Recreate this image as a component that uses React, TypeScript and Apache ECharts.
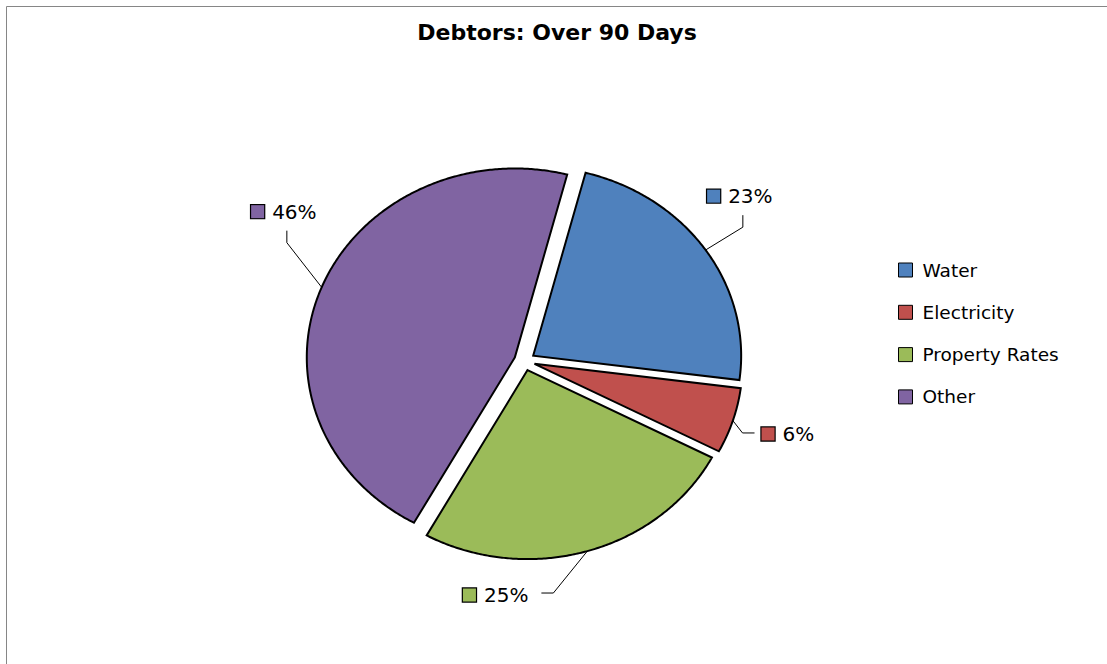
import React, { useEffect, useRef } from 'react';
import * as echarts from 'echarts';

const titleText = 'Debtors: Over 90 Days';
const categories = ['Water', 'Electricity', 'Property Rates', 'Other'];
const values = [23.0, 5.6, 25.4, 46.0];
const colors = ['#4F81BD', '#C0504D', '#9BBB59', '#8064A2'];

// layout (pixels / degrees)
const CX = 524.5;
const CY = 361;
const RX = 208;
const RY = 189;
const EXPLODE = 9.5;
const START = 14.6;
const labelLayout = [
  { dAngle: 0, k: 1.216, dir: 'up' },
  { dAngle: 2.6, k: 1.065, dir: 'right' },
  { dAngle: 10.7, k: 1.186, dir: 'left' },
  { dAngle: 7.2, k: 1.253, dir: 'up' },
];
const FONT = '"DejaVu Sans", sans-serif';

export default function App() {
  const ref = useRef<HTMLDivElement>(null);
  useEffect(() => {
    const chart = echarts.init(ref.current!, null, { renderer: 'svg' });
    const total = values.reduce((a, b) => a + b, 0);
    const bounds: number[] = [START];
    values.forEach((v) => bounds.push(bounds[bounds.length - 1] + (v / total) * 360));
    const rad = (d: number) => (d * Math.PI) / 180;
    const ex = RX / RY;

    const makeRender = (i: number) => (_params: any, _api: any) => {
      const a0 = bounds[i];
      const a1 = bounds[i + 1];
      const am = (a0 + a1) / 2;
      const ox = CX + EXPLODE * ex * Math.sin(rad(am));
      const oy = CY - EXPLODE * Math.cos(rad(am));
      const pts: number[][] = [[ox, oy]];
      const steps = Math.max(2, Math.ceil((a1 - a0) * 2));
      for (let s = 0; s <= steps; s++) {
        const a = rad(a0 + ((a1 - a0) * s) / steps);
        pts.push([ox + RX * Math.sin(a), oy - RY * Math.cos(a)]);
      }
      const L = labelLayout[i];
      const pA = [ox + RX * Math.sin(rad(am)), oy - RY * Math.cos(rad(am))];
      const ab = rad(am + L.dAngle);
      const pB = [ox + L.k * RX * Math.sin(ab), oy - L.k * RY * Math.cos(ab)];
      let pC: number[];
      let tx: number;
      let ty: number;
      let align: string;
      if (L.dir === 'up') {
        pC = [pB[0], pB[1] - 12];
        tx = pC[0] - 3;
        ty = pC[1] - 19;
        align = 'center';
      } else if (L.dir === 'right') {
        pC = [pB[0] + 12, pB[1]];
        tx = pC[0] + 7;
        ty = pC[1] + 1;
        align = 'left';
      } else {
        pC = [pB[0] - 12, pB[1]];
        tx = pC[0] - 13;
        ty = pC[1] + 2;
        align = 'right';
      }
      const pct = Math.round((values[i] / total) * 100) + '%';
      return {
        type: 'group',
        children: [
          {
            type: 'polygon',
            shape: { points: pts },
            style: { fill: colors[i], stroke: '#000', lineWidth: 2, lineJoin: 'miter' },
          },
          {
            type: 'polyline',
            shape: { points: [pA, pB, pC] },
            style: { stroke: '#000', lineWidth: 1, fill: 'none' },
          },
          {
            type: 'text',
            x: tx,
            y: ty,
            style: {
              text: `{k| }{t|${pct}}`,
              align,
              verticalAlign: 'middle',
              rich: {
                k: {
                  width: 13,
                  height: 13,
                  backgroundColor: colors[i],
                  borderColor: '#000',
                  borderWidth: 1.2,
                },
                t: {
                  fontSize: 20,
                  fontFamily: FONT,
                  fill: '#000',
                  padding: [0, 0, 0, 8],
                },
              },
            },
          },
        ],
      };
    };

    chart.setOption({
      animation: false,
      backgroundColor: '#fff',
      title: {
        text: titleText,
        left: 552,
        textAlign: 'center',
        top: 16,
        textStyle: { fontFamily: FONT, fontSize: 22, fontWeight: 'bold', color: '#000' },
      },
      legend: {
        orient: 'vertical',
        left: 893,
        top: 255,
        itemWidth: 14,
        itemHeight: 14,
        itemGap: 22.3,
        icon: 'rect',
        data: categories,
        itemStyle: { borderColor: '#000', borderWidth: 1 },
        textStyle: { fontFamily: FONT, fontSize: 18.5, color: '#000', lineHeight: 20, padding: [0, 0, 0, 5] },
      },
      graphic: [
        {
          type: 'rect',
          silent: true,
          z: -1,
          shape: { x: 6.5, y: 6.5, width: 1200, height: 800 },
          style: { fill: 'none', stroke: '#868686', lineWidth: 1 },
        },
      ],
      series: categories.map((name, i) => ({
        type: 'custom',
        name,
        coordinateSystem: 'none',
        silent: true,
        data: [values[i]],
        itemStyle: { color: colors[i] },
        renderItem: makeRender(i),
      })),
    });
    return () => chart.dispose();
  }, []);
  return (
    <div
      ref={ref}
      style={{ position: 'fixed', left: 0, top: 0, width: 1107, height: 664, background: '#fff' }}
    />
  );
}
